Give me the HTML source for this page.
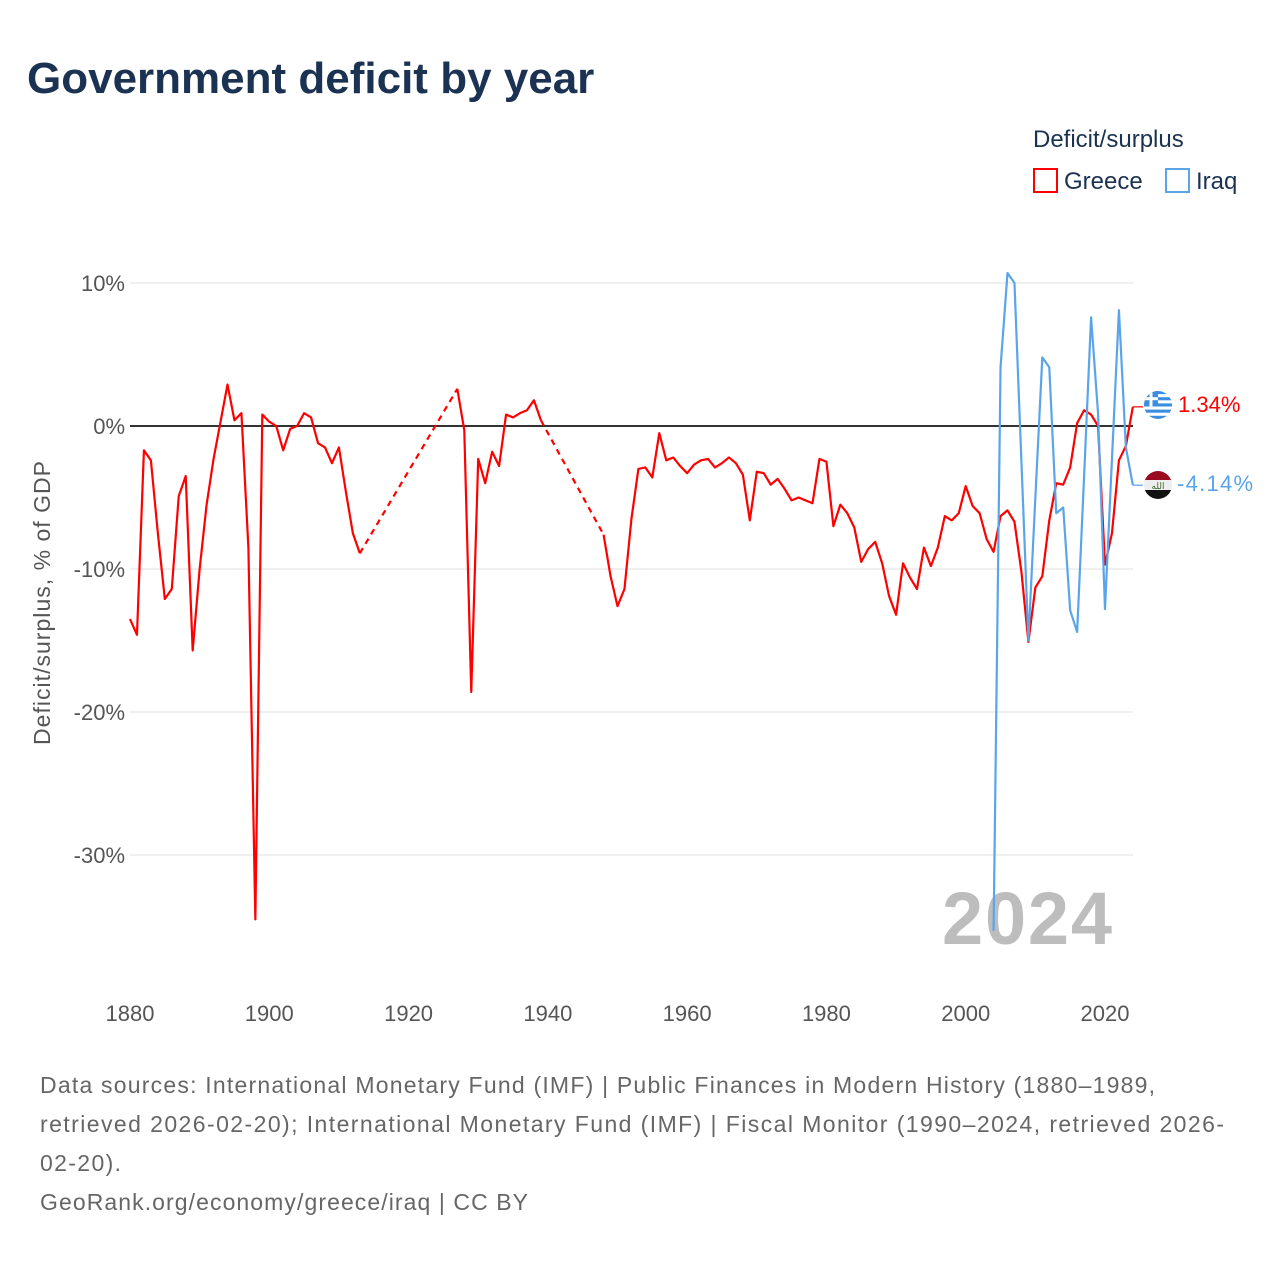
<!DOCTYPE html>
<html><head><meta charset="utf-8"><style>
body{margin:0;background:#fff;font-family:"Liberation Sans",sans-serif}
svg text{font-family:"Liberation Sans",sans-serif}
</style></head><body>
<svg id="c" width="1280" height="1280" viewBox="0 0 1280 1280" xmlns="http://www.w3.org/2000/svg">
<text x="27" y="93" font-size="44" font-weight="bold" fill="#1b3252">Government deficit by year</text>
<text x="1033" y="147" font-size="24" fill="#1b3252">Deficit/surplus</text>
<g><rect x="1034" y="169" width="23" height="23" fill="none" stroke="#f00" stroke-width="2"/><text x="1064" y="189" font-size="24" fill="#1b3252">Greece</text></g>
<g><rect x="1166" y="169" width="23" height="23" fill="none" stroke="#5aa5ea" stroke-width="2"/><text x="1196" y="189" font-size="24" fill="#1b3252">Iraq</text></g>
<g id="grid"></g>
<text x="1112" y="944" font-size="74" font-weight="bold" fill="#bdbdbd" text-anchor="end" textLength="170">2024</text>
<g id="marks"></g>
<text transform="translate(50,603) rotate(-90)" font-size="23" fill="#555" text-anchor="middle" textLength="284">Deficit/surplus, % of GDP</text>
<g>
<clipPath id="cg"><circle cx="1158" cy="405" r="14"/></clipPath>
<g clip-path="url(#cg)"><rect x="1144" y="391" width="28" height="28" fill="#fff"/><rect x="1144" y="391" width="28" height="3.1" fill="#3a8de0"/><rect x="1144" y="397.2" width="28" height="3.1" fill="#3a8de0"/><rect x="1144" y="403.4" width="28" height="3.1" fill="#3a8de0"/><rect x="1144" y="409.6" width="28" height="3.1" fill="#3a8de0"/><rect x="1144" y="415.8" width="28" height="3.2" fill="#3a8de0"/><rect x="1144" y="391" width="14" height="15.5" fill="#3a8de0"/><rect x="1149.5" y="391" width="3" height="15.5" fill="#fff"/><rect x="1144" y="397.2" width="14" height="3" fill="#fff"/></g>
<text x="1178" y="412" font-size="22" fill="#f00">1.34%</text></g>
<g>
<clipPath id="ci"><circle cx="1158" cy="485" r="14"/></clipPath>
<g clip-path="url(#ci)"><rect x="1144" y="471" width="28" height="10" fill="#9a0b20"/><rect x="1144" y="480" width="28" height="10" fill="#eee"/><rect x="1144" y="490" width="28" height="9" fill="#111"/><text x="1158" y="489" font-size="9" fill="#3a6a2a" text-anchor="middle">الله</text></g>
<text x="1177" y="491" font-size="22" fill="#5aa5ea" textLength="76">-4.14%</text></g>
<text x="40" y="1093" font-size="23" fill="#666" textLength="1115">Data sources: International Monetary Fund (IMF) | Public Finances in Modern History (1880–1989,</text>
<text x="40" y="1132" font-size="23" fill="#666" textLength="1184">retrieved 2026-02-20); International Monetary Fund (IMF) | Fiscal Monitor (1990–2024, retrieved 2026-</text>
<text x="40" y="1171" font-size="23" fill="#666" textLength="81">02-20).</text>
<text x="40" y="1210" font-size="23" fill="#666" textLength="488">GeoRank.org/economy/greece/iraq | CC BY</text>
</svg>
<script>
const yTicks=[10,0,-10,-20,-30];
const xTicks=[1880,1900,1920,1940,1960,1980,2000,2020];
const greeceStart=1880;
const greeceValues=[-13.5,-14.6,-1.7,-2.4,-7.5,-12.1,-11.4,-4.9,-3.5,-15.7,-10,-5.5,-2.3,0.3,2.9,0.4,0.9,-8.5,-34.5,0.8,0.3,0,-1.7,-0.2,0,0.9,0.6,-1.2,-1.5,-2.6,-1.5,-4.6,-7.5,-8.9,
null,null,null,null,null,null,null,null,null,null,null,null,null,
2.6,-0.3,-18.6,-2.3,-4,-1.8,-2.8,0.8,0.6,0.9,1.1,1.8,0.4,
null,null,null,null,null,null,null,null,
-7.6,-10.5,-12.6,-11.4,-6.5,-3,-2.9,-3.6,-0.5,-2.4,-2.2,-2.8,-3.3,-2.7,-2.4,-2.3,-2.9,-2.6,-2.2,-2.6,-3.4,-6.6,-3.2,-3.3,-4.1,-3.7,-4.4,-5.2,-5,-5.2,-5.4,-2.3,-2.5,-7,-5.5,-6.1,-7.1,-9.5,-8.6,-8.1,-9.6,-11.9,
-13.2,-9.6,-10.6,-11.4,-8.5,-9.8,-8.5,-6.3,-6.6,-6.1,-4.2,-5.6,-6.1,-7.9,-8.8,-6.3,-5.9,-6.7,-10.2,-15.1,-11.3,-10.5,-6.6,-4,-4.1,-2.9,0.2,1.1,0.8,0,-9.7,-7.5,-2.4,-1.4,1.34];
const iraqStart=2004;
const iraqValues=[-35.3,4.1,10.7,10,-2.5,-15,-5,4.8,4.1,-6.1,-5.7,-12.9,-14.4,-3.5,7.6,0.9,-12.8,-2.3,8.1,-1.5,-4.14];
const NS="http://www.w3.org/2000/svg";
const xS=y=>130+(y-1880)*(975/140);
const yS=v=>426-v*14.3;
const grid=document.getElementById('grid'),marks=document.getElementById('marks');
function mk(tag,attrs,parent){const e=document.createElementNS(NS,tag);for(const k in attrs)e.setAttribute(k,attrs[k]);parent.appendChild(e);return e;}
yTicks.forEach(t=>{
 const l=mk('line',{x1:130,x2:1133,y1:yS(t),y2:yS(t),stroke:t===0?'#333':'#e6e6e6','stroke-width':t===0?2:1.2},grid);
 
 
 const tx=mk('text',{x:125,y:yS(t)+8,'font-size':22,fill:'#555','text-anchor':'end'},grid);
 tx.textContent=t+'%';
 
 
});
xTicks.forEach(t=>{
 const tx=mk('text',{x:xS(t),y:1021,'font-size':22,fill:'#555','text-anchor':'middle'},grid);
 tx.textContent=t;
 
 
});
function drawSeries(start,vals,color,name){
 let segs=[],cur=[],last=null;
 vals.forEach((v,i)=>{const p=[xS(start+i),yS(v)];
  if(v===null){if(cur.length){segs.push(cur);cur=[];}return;}
  if(!cur.length&&last){const d=mk('path',{d:`M${last[0]},${last[1]}L${p[0]},${p[1]}`,stroke:color,'stroke-width':2.2,fill:'none','stroke-dasharray':'6,5'},marks);
   
   }
  cur.push(p);last=p;});
 if(cur.length)segs.push(cur);
 segs.forEach(s=>{const d=mk('path',{d:'M'+s.map(p=>p.join(',')).join('L'),stroke:color,'stroke-width':2.2,fill:'none','stroke-linejoin':'round'},marks);
  
  });
 return last;
}
const gl=drawSeries(greeceStart,greeceValues,'#f00','greece');
const il=drawSeries(iraqStart,iraqValues,'#5aa5ea','iraq');
const c1=mk('path',{d:`M${gl[0]},${gl[1]}H1143`,stroke:'#f00','stroke-width':1.2},marks);


const c2=mk('path',{d:`M${il[0]},${il[1]}H1143`,stroke:'#5aa5ea','stroke-width':1.2},marks);


</script>
</body></html>
